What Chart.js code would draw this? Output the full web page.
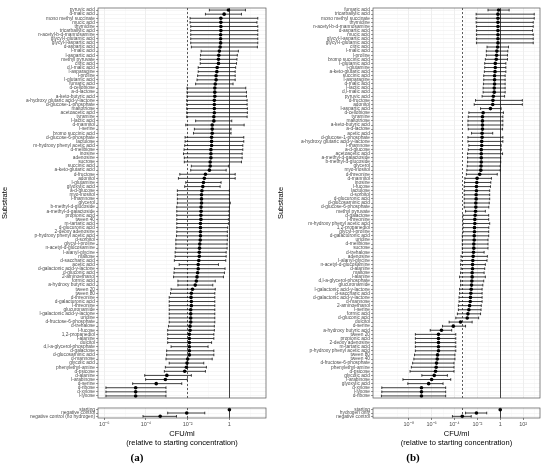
<!DOCTYPE html>
<html>
<head>
<meta charset="utf-8">
<script src="https://cdn.jsdelivr.net/npm/chart.js@4"></script>
<style>
  body { margin: 0; background: #fff; }
  #wrap { position: relative; width: 550px; height: 468px; }
  canvas { position: absolute; }
  .tag { position: absolute; font: bold 11px "Liberation Serif", serif; color: #000; transform: translate(-50%, -50%); }
</style>
</head>
<body>
<div id="wrap">
  <canvas id="aMain" width="270" height="402" style="left:0;top:0"></canvas>
  <canvas id="aCtrl" width="270" height="50" style="left:0;top:404px"></canvas>
  <canvas id="bMain" width="268" height="402" style="left:276px;top:0"></canvas>
  <canvas id="bCtrl" width="268" height="50" style="left:276px;top:404px"></canvas>
  <div class="tag" style="left:137px;top:457px">(a)</div>
  <div class="tag" style="left:413px;top:457px">(b)</div>
</div>
<script>
// ---- panel (a) ----
const subsA = ['pyruvic acid', 'd-malic acid', 'mono methyl succinate', 'mucic acid', 'thymidine', 'tricarballylic acid',
    'n-acetyl-b-d-mannosamine', 'glycyl-l-glutamic acid', 'glycyl-l-aspartic acid', 'd-aspartic acid',
    'l-malic acid', 'l-aspartic acid', 'methyl pyruvate', 'citric acid', 'd,l-malic acid', 'l-asparagine', 'l-proline',
    'l-glutamic acid', 'fumaric acid', 'd-cellobiose', 'a-d-lactose', 'a-keto-butyric acid',
    'a-hydroxy glutaric acid-y-lactone', 'd-glucose-1-phosphate', 'maltotriose', 'acetoacetic acid', 'tyramine',
    'l-lactic acid', 'd-mannitol', 'l-serine', 'bromo succinic acid', 'd-glucose-6-phosphate', 'lactulose',
    'm-hydroxy phenyl acetic acid', 'd-melibiose', 'inosine', 'adenosine', 'sucrose', 'succinic acid',
    'a-keto-glutaric acid', 'd-fructose', 'adonitol', 'l-glutamine', 'glyoxylic acid', 'a-d-glucose', 'myo-inositol',
    'l-rhamnose', 'glycerol', 'b-methyl-d-glucoside', 'a-methyl-d-galactoside', 'propionic acid', 'tween 40',
    'm-tartaric acid', 'd-glucuronic acid', '2-deoxy adenosine', 'p-hydroxy phenyl acetic acid', 'd-sorbitol',
    'glycyl-l-proline', 'n-acetyl-d-glucosamine', 'l-alanyl-glycine', 'maltose', 'd-saccharic acid', 'acetic acid',
    'd-galactonic acid-y-lactone', 'd-gluconic acid', '2-aminoethanol', 'formic acid', 'a-hydroxy butyric acid',
    'tween 20', 'tween 80', 'd-threonine', 'd-galacturonic acid', 'l-threonine', 'glucuronamide',
    'l-galactonic acid-y-lactone', 'uridine', 'd-fructose-6-phosphate', 'd-trehalose', 'l-fucose', '1,2-propanediol',
    'l-alanine', 'dulcitol', 'd,l-a-glycerol-phosphate', 'd-galactose', 'd-glucosaminic acid', 'd-mannose',
    'glycolic acid', 'phenylethyl-amine', 'd-psicose', 'd-alanine', 'l-arabinose', 'd-serine', 'd-ribose', 'd-xylose',
    'l-lyxose'];
const estA = [9.0e-1, 5.6e-1, 3.9e-1, 3.9e-1, 3.9e-1, 3.9e-1, 3.8e-1, 3.8e-1, 3.8e-1, 3.6e-1,
    3.3e-1, 3.1e-1, 3.0e-1, 3.0e-1, 2.6e-1, 2.5e-1, 2.3e-1, 2.3e-1, 2.1e-1, 2.0e-1,
    2.0e-1, 2.0e-1, 1.9e-1, 1.9e-1, 1.9e-1, 1.9e-1, 1.8e-1, 1.8e-1, 1.5e-1, 1.5e-1,
    1.5e-1, 1.4e-1, 1.4e-1, 1.4e-1, 1.3e-1, 1.3e-1, 1.3e-1, 1.2e-1, 1.2e-1, 1.1e-1,
    7.1e-2, 6.3e-2, 5.7e-2, 5.3e-2, 4.8e-2, 4.6e-2, 4.6e-2, 4.6e-2, 4.4e-2, 4.4e-2,
    4.3e-2, 4.3e-2, 4.1e-2, 4.1e-2, 4.1e-2, 4.1e-2, 4.0e-2, 3.8e-2, 3.7e-2, 3.6e-2,
    3.6e-2, 3.4e-2, 3.2e-2, 3.2e-2, 3.0e-2, 2.8e-2, 2.6e-2, 2.3e-2, 1.7e-2, 1.5e-2,
    1.45e-2, 1.5e-2, 1.5e-2, 1.4e-2, 1.4e-2, 1.4e-2, 1.4e-2, 1.3e-2, 1.3e-2, 1.2e-2,
    1.2e-2, 1.2e-2, 1.2e-2, 1.2e-2, 1.2e-2, 1.0e-2, 9.3e-3, 8.7e-3, 7.2e-3, 1.0e-3,
    8.5e-4, 3.1e-4, 3.2e-5, 3.2e-5, 3.2e-5];
const loA = [1.1e-1, 7.1e-2, 1.3e-2, 1.3e-2, 1.4e-2, 1.4e-2, 1.4e-2, 1.4e-2, 1.4e-2, 1.5e-2,
    4.4e-2, 4.1e-2, 4.0e-2, 4.0e-2, 3.2e-2, 3.2e-2, 3.0e-2, 2.8e-2, 2.4e-2, 9.3e-3,
    9.3e-3, 9.3e-3, 9.0e-3, 9.0e-3, 9.0e-3, 9.0e-3, 9.0e-3, 2.4e-2, 8.1e-3, 2.1e-2,
    1.9e-2, 7.5e-3, 7.5e-3, 7.2e-3, 6.7e-3, 6.3e-3, 6.9e-3, 6.9e-3, 1.5e-2, 1.4e-2,
    4.2e-3, 3.6e-3, 8.1e-3, 7.2e-3, 3.2e-3, 3.2e-3, 3.2e-3, 3.2e-3, 3.0e-3, 3.0e-3,
    3.0e-3, 3.0e-3, 3.0e-3, 3.0e-3, 3.0e-3, 2.9e-3, 2.7e-3, 2.7e-3, 2.7e-3, 2.5e-3,
    2.5e-3, 2.3e-3, 3.9e-3, 2.3e-3, 2.2e-3, 2.1e-3, 3.4e-3, 3.4e-3, 1.6e-3, 1.5e-3,
    1.3e-3, 1.3e-3, 1.3e-3, 1.3e-3, 1.3e-3, 1.3e-3, 1.3e-3, 1.2e-3, 1.1e-3, 1.1e-3,
    1.1e-3, 1.1e-3, 1.6e-3, 9.8e-4, 9.8e-4, 9.1e-4, 1.3e-3, 8.5e-4, 7.6e-4, 8.7e-5,
    9.6e-5, 2.3e-5, 1.2e-6, 1.2e-6, 1.2e-6];
const hiA = [5.9, 3.8, 2.3e1, 2.1e1, 2.3e1, 2.3e1, 2.3e1, 2.3e1, 2.3e1, 2.2e1,
    2.7, 2.4, 2.3, 2.2, 2.0, 1.9, 1.9, 1.9, 1.5, 6.1,
    6.6, 6.6, 7.1, 7.1, 7.3, 7.3, 7.1, 1.3, 5.1, 1.2,
    1.2, 4.9, 4.9, 4.4, 4.4, 4.1, 4.1, 3.8, 9.0e-1, 7.0e-1,
    1.9, 1.9, 4.0e-1, 3.6e-1, 1.0, 1.0, 1.0, 1.1, 1.0, 9.6e-1,
    9.6e-1, 9.0e-1, 9.0e-1, 8.3e-1, 8.0e-1, 8.0e-1, 8.0e-1, 7.8e-1, 7.8e-1, 7.0e-1,
    7.0e-1, 6.7e-1, 3.0e-1, 6.2e-1, 5.8e-1, 5.2e-1, 2.1e-1, 1.6e-1, 2.1e-1, 2.0e-1,
    2.0e-1, 2.0e-1, 2.0e-1, 2.0e-1, 2.0e-1, 2.0e-1, 2.0e-1, 1.9e-1, 1.9e-1, 1.8e-1,
    1.8e-1, 1.4e-1, 9.5e-2, 1.8e-1, 1.8e-1, 1.5e-1, 5.9e-2, 7.9e-2, 7.1e-2, 1.5e-2,
    9.6e-3, 5.2e-3, 9.1e-4, 9.1e-4, 9.1e-4];
const ctrlA = ['starting', 'negative control', 'negative control (no hydrogen)'];
const ctrlEstA = [1, 9.0e-3, 4.8e-4];
const ctrlLoA = [1, 1.1e-3, 7.2e-5];
const ctrlHiA = [1, 6.6e-2, 2.9e-3];
const tickValsA = [1e-6, 1e-4, 1e-2, 1];
const tickLabelsA = ['10⁻⁶', '10⁻⁴', '10⁻²', '1'];

// ---- panel (b) ----
const subsB = ['fumaric acid', 'tricarballylic acid', 'mono methyl succinate', 'thymidine', 'n-acetyl-b-d-mannosamine',
    'd-aspartic acid', 'mucic acid', 'glycyl-l-aspartic acid', 'glycyl-l-glutamic acid', 'citric acid', 'l-malic acid',
    'l-proline', 'bromo succinic acid', 'l-glutamic acid', 'l-glutamine', 'a-keto-glutaric acid', 'succinic acid',
    'l-asparagine', 'd-malic acid', 'l-lactic acid', 'd,l-malic acid', 'pyruvic acid', 'd-fructose', 'adonitol',
    'l-aspartic acid', 'd-cellobiose', 'tyramine', 'maltotriose', 'a-keto-butyric acid', 'a-d-lactose', 'acetic acid',
    'd-glucose-1-phosphate', 'a-hydroxy glutaric acid-y-lactone', 'l-rhamnose', 'a-d-glucose', 'acetoacetic acid',
    'a-methyl-d-galactoside', 'b-methyl-d-glucoside', 'glycerol', 'myo-inositol', 'd-threonine', 'd-mannitol',
    'inosine', 'l-fucose', 'lactulose', 'd-sorbitol', 'd-glucuronic acid', 'd-glucosaminic acid',
    'd-glucose-6-phosphate', 'methyl pyruvate', 'd-galactose', 'l-threonine', 'm-hydroxy phenyl acetic acid',
    '1,2-propanediol', 'glycyl-l-proline', 'd-galacturonic acid', 'uridine', 'd-melibiose', 'sucrose', 'd-trehalose',
    'adenosine', 'l-alanyl-glycine', 'n-acetyl-d-glucosamine', 'd-alanine', 'maltose', 'l-alanine',
    'd,l-a-glycerol-phosphate', 'glucuronamide', 'l-galactonic acid-y-lactone', 'd-saccharic acid',
    'd-galactonic acid-y-lactone', 'd-mannose', '2-aminoethanol', 'l-serine', 'formic acid', 'd-gluconic acid',
    'dulcitol', 'd-serine', 'a-hydroxy butyric acid', 'tween 20', 'propionic acid', '2-deoxy adenosine',
    'm-tartaric acid', 'p-hydroxy phenyl acetic acid', 'tween 80', 'tween 40', 'd-fructose-6-phosphate',
    'phenylethyl-amine', 'd-psicose', 'glycolic acid', 'l-arabinose', 'glyoxylic acid', 'd-xylose', 'l-lyxose',
    'd-ribose'];
const estB = [7.2e-1, 6.3e-1, 6.3e-1, 6.3e-1, 6.3e-1, 6.3e-1, 6.3e-1, 6.3e-1, 6.3e-1, 5.9e-1,
    5.1e-1, 4.8e-1, 4.5e-1, 3.7e-1, 3.7e-1, 3.5e-1, 3.2e-1, 3.2e-1, 3.2e-1, 3.0e-1,
    3.0e-1, 2.5e-1, 2.3e-1, 2.2e-1, 1.4e-1, 3.2e-2, 2.8e-2, 2.8e-2, 2.8e-2, 2.8e-2,
    2.6e-2, 2.6e-2, 2.4e-2, 2.4e-2, 2.2e-2, 2.2e-2, 2.2e-2, 2.2e-2, 2.1e-2, 2.0e-2,
    1.6e-2, 9.5e-3, 8.9e-3, 8.3e-3, 8.3e-3, 7.8e-3, 7.8e-3, 7.3e-3, 7.3e-3, 6.9e-3,
    6.4e-3, 6.0e-3, 6.0e-3, 5.6e-3, 5.6e-3, 5.3e-3, 5.3e-3, 4.9e-3, 4.9e-3, 4.6e-3,
    4.3e-3, 4.0e-3, 3.8e-3, 3.8e-3, 3.5e-3, 3.5e-3, 3.3e-3, 3.1e-3, 2.9e-3, 2.7e-3,
    2.5e-3, 2.4e-3, 2.1e-3, 1.8e-3, 1.5e-3, 1.3e-3, 3.4e-4, 7.9e-5, 7.3e-6, 4.0e-6,
    4.0e-6, 4.0e-6, 4.0e-6, 4.0e-6, 3.3e-6, 3.1e-6, 2.7e-6, 2.5e-6, 2.2e-6, 1.7e-6,
    1.0e-6, 5.5e-7, 1.3e-7, 1.3e-7, 1.3e-7];
const loB = [8.5e-2, 7.8e-3, 7.8e-3, 7.8e-3, 8.3e-3, 8.3e-3, 8.3e-3, 8.3e-3, 8.3e-3, 7.0e-2,
    6.1e-2, 6.1e-2, 5.0e-2, 4.4e-2, 4.4e-2, 4.1e-2, 3.6e-2, 3.6e-2, 3.4e-2, 3.2e-2,
    3.2e-2, 2.6e-2, 6.9e-3, 5.3e-3, 1.9e-2, 1.8e-3, 1.6e-3, 1.5e-3, 1.5e-3, 1.6e-3,
    3.1e-3, 1.5e-3, 1.5e-3, 1.8e-3, 1.6e-3, 1.4e-3, 1.4e-3, 1.4e-3, 1.3e-3, 1.2e-3,
    1.1e-3, 8.1e-4, 7.6e-4, 7.1e-4, 7.1e-4, 7.1e-4, 7.1e-4, 7.1e-4, 7.1e-4, 9.3e-4,
    5.5e-4, 5.5e-4, 5.5e-4, 5.5e-4, 5.5e-4, 4.8e-4, 4.8e-4, 4.8e-4, 4.8e-4, 4.8e-4,
    3.7e-4, 3.7e-4, 3.4e-4, 3.7e-4, 3.4e-4, 2.8e-4, 3.4e-4, 3.4e-4, 2.8e-4, 2.8e-4,
    2.5e-4, 2.5e-4, 2.2e-4, 2.2e-4, 1.8e-4, 1.3e-4, 3.4e-5, 8.9e-6, 7.6e-7, 3.8e-8,
    3.8e-8, 3.8e-8, 3.8e-8, 3.8e-8, 3.2e-8, 2.8e-8, 2.2e-8, 1.7e-8, 1.3e-8, 1.4e-7,
    3.1e-9, 8.3e-9, 4.4e-11, 4.4e-11, 4.1e-11];
const hiB = [6.0, 9.4e2, 9.4e2, 7.7e2, 7.7e2, 6.7e2, 7.7e2, 7.7e2, 7.7e2, 5.3,
    4.6, 4.3, 4.3, 3.1, 3.1, 3.1, 2.7, 2.7, 2.7, 2.7,
    2.7, 2.4, 8.6e1, 8.6e1, 1.2, 1.9, 1.7, 1.7, 1.7, 1.6,
    2.2e-1, 1.7, 1.7, 1.2, 1.2, 1.6, 1.1, 1.1, 1.0, 1.0,
    5.5e-1, 1.7e-1, 1.5e-1, 1.4e-1, 1.2e-1, 1.2e-1, 1.2e-1, 1.1e-1, 1.0e-1, 5.0e-2,
    9.8e-2, 9.8e-2, 1.2e-1, 1.0e-1, 9.8e-2, 9.8e-2, 8.5e-2, 8.5e-2, 8.5e-2, 3.9e-2,
    7.5e-2, 7.0e-2, 5.0e-2, 4.4e-2, 3.9e-2, 5.0e-2, 3.6e-2, 3.0e-2, 2.6e-2, 2.6e-2,
    2.6e-2, 2.6e-2, 2.2e-2, 2.1e-2, 1.9e-2, 1.3e-2, 3.5e-3, 9.3e-4, 5.7e-5, 1.3e-4,
    1.3e-4, 1.3e-4, 1.3e-4, 1.3e-4, 1.1e-4, 1.1e-4, 9.1e-5, 9.1e-5, 9.1e-5, 2.4e-5,
    4.7e-5, 1.0e-5, 1.7e-5, 1.7e-5, 1.7e-5];
const ctrlB = ['starting', 'hydrogen only', 'negative control'];
const ctrlEstB = [1, 8.3e-3, 4.8e-4];
const ctrlLoB = [1, 9.3e-4, 6.6e-5];
const ctrlHiB = [1, 6.6e-2, 2.9e-3];
const tickValsB = [1e-8, 1e-6, 1e-4, 1e-2, 1, 1e2];
const tickLabelsB = ['10⁻⁸', '10⁻⁶', '10⁻⁴', '10⁻²', '1', '10²'];

const FONT = '"Liberation Sans", Arial, sans-serif';
const GREY = '#4d4d4d';

// error bars, reference lines and the panel frame
const panelPlugin = {
    id: 'panel',
    beforeDatasetsDraw(chart, args, opts) {
        const {ctx, chartArea: a, scales: {x, y}} = chart;
        ctx.save();
        ctx.beginPath();
        ctx.rect(a.left, a.top, a.width, a.height);
        ctx.clip();

        let px = Math.round(x.getPixelForValue(opts.dashed)) + 0.5;
        ctx.strokeStyle = '#333';
        ctx.lineWidth = 0.8;
        ctx.setLineDash([2, 2]);
        ctx.beginPath();
        ctx.moveTo(px, a.top);
        ctx.lineTo(px, a.bottom);
        ctx.stroke();

        px = Math.round(x.getPixelForValue(opts.solid)) + 0.5;
        ctx.setLineDash([]);
        ctx.strokeStyle = '#444';
        ctx.lineWidth = 1;
        ctx.beginPath();
        ctx.moveTo(px, a.top);
        ctx.lineTo(px, a.bottom);
        ctx.stroke();

        const ds = chart.data.datasets[0];
        ctx.strokeStyle = '#111';
        ctx.lineWidth = 0.8;
        ds.data.forEach((p, i) => {
            const yy = y.getPixelForValue(i);
            const x1 = x.getPixelForValue(ds.lo[i]);
            const x2 = x.getPixelForValue(ds.hi[i]);
            if (Math.abs(x2 - x1) < 0.5) return;
            ctx.beginPath();
            ctx.moveTo(x1, yy);
            ctx.lineTo(x2, yy);
            ctx.moveTo(x1, yy - 1.3);
            ctx.lineTo(x1, yy + 1.3);
            ctx.moveTo(x2, yy - 1.3);
            ctx.lineTo(x2, yy + 1.3);
            ctx.stroke();
        });
        ctx.restore();
    },
    afterDraw(chart) {
        const {ctx, chartArea: a} = chart;
        ctx.save();
        ctx.strokeStyle = '#555';
        ctx.lineWidth = 0.7;
        ctx.strokeRect(a.left, a.top, a.width, a.height);
        ctx.restore();
    }
};

function logEq(a, b) {
    return Math.abs(Math.log10(a) - Math.log10(b)) < 1e-6;
}

function xScale(tickVals, tickLabels, xmin, xmax, showLabels) {
    // minor grid lines sit half way (in log space) between the labelled breaks
    const minor = [];
    const step = tickVals[1] / tickVals[0];
    minor.push(tickVals[0] / Math.sqrt(step));
    for (let i = 0; i < tickVals.length - 1; ++i) {
        minor.push(Math.sqrt(tickVals[i] * tickVals[i + 1]));
    }
    minor.push(tickVals[tickVals.length - 1] * Math.sqrt(step));
    const all = tickVals.concat(minor).filter(v => v >= xmin && v <= xmax).sort((p, q) => p - q);
    const isMajor = v => tickVals.some(t => logEq(t, v));
    return {
        type: 'logarithmic',
        min: xmin,
        max: xmax,
        afterBuildTicks: s => { s.ticks = all.map(v => ({value: v})); },
        afterFit: s => { s.height = showLabels ? 36 : 0; },
        border: {display: false},
        grid: {
            drawTicks: showLabels,
            tickLength: 2,
            color: c => (c.tick && isMajor(c.tick.value)) ? '#e6e6e6' : '#f3f3f3',
            lineWidth: c => (c.tick && isMajor(c.tick.value)) ? 0.7 : 0.4,
            tickColor: c => (c.tick && isMajor(c.tick.value)) ? '#333' : 'rgba(0,0,0,0)',
            tickWidth: 0.6
        },
        ticks: {
            display: showLabels,
            autoSkip: false,
            maxRotation: 0,
            padding: 1,
            color: GREY,
            font: {family: FONT, size: 5.5},
            callback: v => {
                const k = tickVals.findIndex(t => logEq(t, v));
                return k < 0 ? '' : tickLabels[k];
            }
        },
        title: {
            display: showLabels,
            text: ['CFU/ml', '(relative to starting concentration)'],
            color: '#000',
            font: {family: FONT, size: 7.5},
            padding: {top: 0, bottom: 7}
        }
    };
}

function yScale(labels, width, withTitle) {
    return {
        type: 'category',
        labels: labels,
        offset: true,
        afterFit: s => { s.width = width; },
        border: {display: false},
        grid: {
            color: '#ececec',
            lineWidth: 0.5,
            tickLength: 2,
            tickColor: '#333',
            tickWidth: 0.5
        },
        ticks: {
            autoSkip: false,
            padding: 1,
            color: GREY,
            font: {family: FONT, size: 4.8}
        },
        title: {
            display: withTitle,
            text: 'Substrate',
            color: '#000',
            font: {family: FONT, size: 7.5},
            padding: 0
        }
    };
}

function makeChart(id, labels, est, lo, hi, opts) {
    return new Chart(document.getElementById(id), {
        type: 'scatter',
        data: {
            datasets: [{
                data: labels.map((l, i) => ({x: est[i], y: l})),
                lo: lo,
                hi: hi,
                pointRadius: 1.8,
                pointBackgroundColor: '#000',
                pointBorderWidth: 0
            }]
        },
        options: {
            responsive: false,
            animation: false,
            layout: {padding: opts.padding},
            plugins: {
                legend: {display: false},
                tooltip: {enabled: false},
                panel: {dashed: opts.dashed, solid: opts.solid}
            },
            scales: {
                x: xScale(opts.tickVals, opts.tickLabels, opts.xmin, opts.xmax, opts.bottom),
                y: yScale(labels, opts.yWidth, !opts.bottom)
            }
        },
        plugins: [panelPlugin]
    });
}

const mainPad = {top: 8, right: 2, left: 0, bottom: 0};
const ctrlPad = {top: 2, right: 2, left: 0, bottom: 0};
const optsA = {tickVals: tickValsA, tickLabels: tickLabelsA, xmin: 5e-7, xmax: 57, yWidth: 98,
    dashed: ctrlEstA[1], solid: ctrlEstA[0]};
const optsB = {tickVals: tickValsB, tickLabels: tickLabelsB, xmin: 7.5e-12, xmax: 3.0e3, yWidth: 97,
    dashed: ctrlEstB[2], solid: ctrlEstB[0]};

makeChart('aMain', subsA, estA, loA, hiA, Object.assign({}, optsA, {padding: mainPad, bottom: false}));
makeChart('aCtrl', ctrlA, ctrlEstA, ctrlLoA, ctrlHiA, Object.assign({}, optsA, {padding: ctrlPad, bottom: true}));
makeChart('bMain', subsB, estB, loB, hiB, Object.assign({}, optsB, {padding: mainPad, bottom: false}));
makeChart('bCtrl', ctrlB, ctrlEstB, ctrlLoB, ctrlHiB, Object.assign({}, optsB, {padding: ctrlPad, bottom: true}));
</script>
</body>
</html>
